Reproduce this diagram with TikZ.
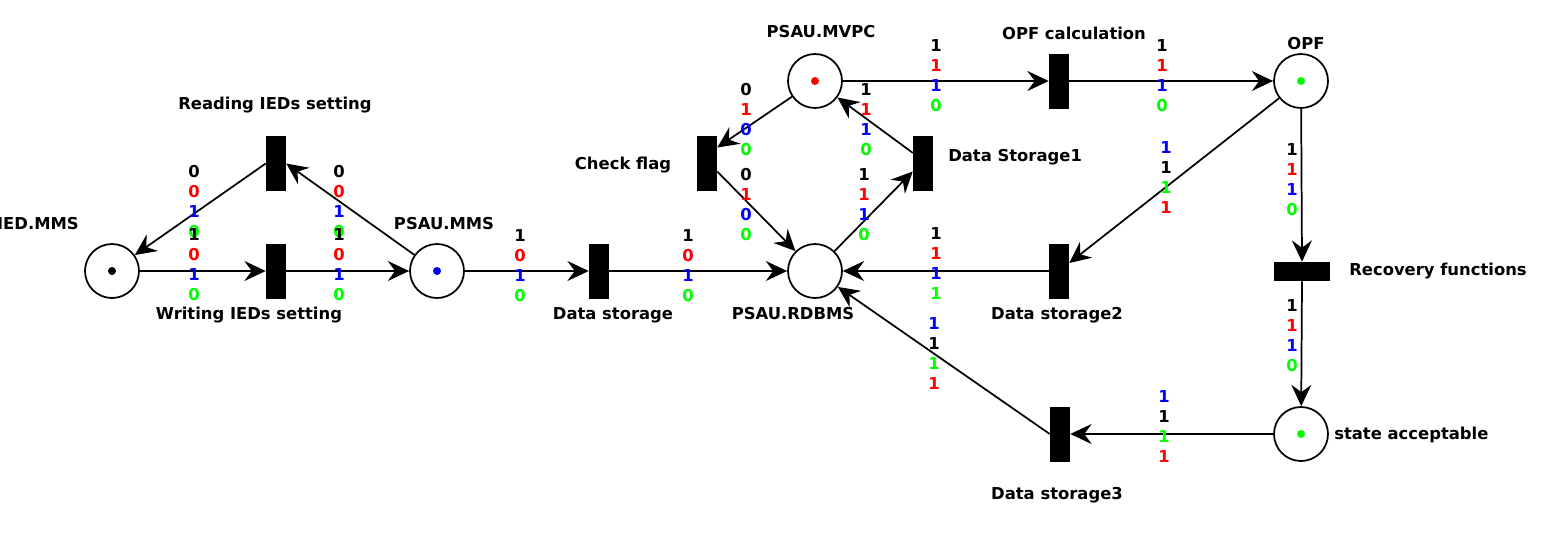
\documentclass[tikz,border=0pt]{standalone}
\usepackage{fontspec}
\setmainfont{DejaVu Sans}
\usetikzlibrary{arrows.meta}
\definecolor{lgreen}{RGB}{0,255,0}
\tikzset{
 pplace/.style={circle,draw,line width=1.3pt,minimum size=40.5pt,inner sep=0pt},
 ptrans/.style={rectangle,fill=black,minimum width=15pt,minimum height=41.25pt,inner sep=0pt},
 phtrans/.style={rectangle,fill=black,minimum width=42pt,minimum height=14.25pt,inner sep=0pt},
 ptoken/.style={circle,fill=#1,minimum size=6pt,inner sep=0pt},
 plab/.style={font=\bfseries\fontsize{12.3}{14}\selectfont,inner sep=0pt,anchor=mid},
 pnarc/.style={line width=1.3pt,-{Stealth[length=16pt,width=15pt,inset=5.5pt]}}
}
\newcommand\wl[4]{\foreach \c/\d [count=\i from 0] in {#4} {\node[plab,text=\c] (#1-\i) at (#2,#3+20*\i) {\d};}}
\begin{document}
\begin{tikzpicture}[x=0.75pt,y=-0.75pt]
\useasboundingbox (0,0) rectangle (1566,536);
\clip (0,0) rectangle (1566,536);
% places
\node[pplace] (ied) at (112,271) {};
\node[pplace] (pmms) at (437,271) {};
\node[pplace] (rdbms) at (815,271) {};
\node[pplace] (mvpc) at (815,81) {};
\node[pplace] (opf) at (1301,81) {};
\node[pplace] (sacc) at (1301,434) {};
% tokens
\node[ptoken=black] (t1) at (ied) {};
\node[ptoken=blue] (t2) at (pmms) {};
\node[ptoken=red] (t3) at (mvpc) {};
\node[ptoken=lgreen] (t4) at (opf) {};
\node[ptoken=lgreen] (t5) at (sacc) {};
% transitions
\node[ptrans] (read) at (276,163.5) {};
\node[ptrans] (write) at (276,271) {};
\node[ptrans] (dstor) at (599,271) {};
\node[ptrans] (check) at (707,163.5) {};
\node[ptrans] (ds1) at (923,163.5) {};
\node[ptrans] (opfc) at (1059,81) {};
\node[ptrans] (ds2) at (1059,271) {};
\node[ptrans] (ds3) at (1060,434) {};
\node[phtrans] (recov) at (1302,271.5) {};
% names
\node[plab,anchor=mid east] (nied) at (79,226) {IED.MMS};
\node[plab] (npmms) at (444,226) {PSAU.MMS};
\node[plab] (nrdbms) at (793,316) {PSAU.RDBMS};
\node[plab] (nmvpc) at (821,34) {PSAU.MVPC};
\node[plab] (nopf) at (1306,46) {OPF};
\node[plab,anchor=mid west] (nsacc) at (1334,436) {state acceptable};
\node[plab] (nread) at (275,106) {Reading IEDs setting};
\node[plab] (nwrite) at (249,316) {Writing IEDs setting};
\node[plab] (ndstor) at (613,316) {Data storage};
\node[plab] (ncheck) at (623,166) {Check flag};
\node[plab,anchor=mid west] (nds1) at (948,158) {Data Storage1};
\node[plab] (nopfc) at (1074,36) {OPF calculation};
\node[plab] (nds2) at (1057,316) {Data storage2};
\node[plab] (nds3) at (1057,496) {Data storage3};
\node[plab,anchor=mid west] (nrecov) at (1349,272) {Recovery functions};
% arcs
\draw[pnarc] (read.west) -- (ied);
\draw[pnarc] (pmms) -- (read.east);
\draw[pnarc] (ied) -- (write.west);
\draw[pnarc] (write.east) -- (pmms);
\draw[pnarc] (pmms) -- (dstor.west);
\draw[pnarc] (dstor.east) -- (rdbms);
\draw[pnarc] (mvpc) -- ([yshift=12pt]check.east);
\draw[pnarc] ([yshift=-6pt]check.east) -- (rdbms);
\draw[pnarc] (rdbms) -- ([yshift=-6pt]ds1.west);
\draw[pnarc] ([yshift=8pt]ds1.west) -- (mvpc);
\draw[pnarc] (mvpc) -- (opfc.west);
\draw[pnarc] (opfc.east) -- (opf);
\draw[pnarc] (opf) -- ([yshift=6pt]ds2.east);
\draw[pnarc] (opf) -- (recov.north);
\draw[pnarc] (recov.south) -- (sacc);
\draw[pnarc] (sacc) -- (ds3.east);
\draw[pnarc] (ds3.west) -- (rdbms);
\draw[pnarc] (ds2.west) -- (rdbms);
% arc weights
\wl{w1}{194}{174}{black/0,red/0,blue/1,lgreen/0}
\wl{w2}{339}{174}{black/0,red/0,blue/1,lgreen/0}
\wl{w3}{194}{237}{black/1,red/0,blue/1,lgreen/0}
\wl{w4}{339}{237}{black/1,red/0,blue/1,lgreen/0}
\wl{w5}{520}{238}{black/1,red/0,blue/1,lgreen/0}
\wl{w6}{688}{238}{black/1,red/0,blue/1,lgreen/0}
\wl{w7}{746}{92}{black/0,red/1,blue/0,lgreen/0}
\wl{w8}{746}{177}{black/0,red/1,blue/0,lgreen/0}
\wl{w9}{866}{92}{black/1,red/1,blue/1,lgreen/0}
\wl{w10}{864}{177}{black/1,red/1,blue/1,lgreen/0}
\wl{w11}{936}{48}{black/1,red/1,blue/1,lgreen/0}
\wl{w12}{1162}{48}{black/1,red/1,blue/1,lgreen/0}
\wl{w13}{1166}{150}{blue/1,black/1,lgreen/1,red/1}
\wl{w14}{1292}{152}{black/1,red/1,blue/1,lgreen/0}
\wl{w15}{936}{236}{black/1,red/1,blue/1,lgreen/1}
\wl{w16}{1292}{308}{black/1,red/1,blue/1,lgreen/0}
\wl{w17}{1164}{399}{blue/1,black/1,lgreen/1,red/1}
\wl{w18}{934}{326}{blue/1,black/1,lgreen/1,red/1}
\end{tikzpicture}
\end{document}
